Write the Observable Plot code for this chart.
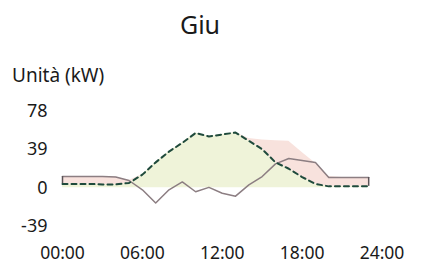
<!DOCTYPE html>
<html>
<head>
<meta charset="utf-8">
<script src="https://cdn.jsdelivr.net/npm/d3@7"></script>
<script src="https://cdn.jsdelivr.net/npm/@observablehq/plot@0.6"></script>
<style>
  html, body { margin: 0; padding: 0; background: #ffffff; }
  #wrap { position: relative; width: 426px; height: 265px; font-family: "Noto Sans", sans-serif; color: #1a1a1a; }
  #title { position: absolute; left: 0; width: 400px; text-align: center; top: 12px; font-size: 25px; line-height: 1; }
  #unit { position: absolute; left: 12px; top: 66px; font-size: 19px; line-height: 1; }
  #chart { position: absolute; left: 0; top: 0; }
</style>
</head>
<body>
<div id="wrap">
  <div id="chart"></div>
  <div id="title">Giu</div>
  <div id="unit">Unità (kW)</div>
</div>
<script>
// Hours of the day (hourly samples)
const hours = [0,1,2,3,4,5,6,7,8,9,10,11,12,13,14,15,16,17,18,19,20,21,22,23];
// PV production (dashed line)
const pv    = [4,4,4,3.5,3.5,5,13.5,26,37,46,56,52.5,54.5,56.5,48,39.5,26,19.5,11,4,1.5,1.5,1.5,1.5];
// Grid power (solid line; negative = export)
const grid  = [11.5,11.5,11.5,11.5,11,7.5,-2,-15.5,-2,6,-4,0.5,-5.5,-8.5,3,11.5,24.5,30,28,26,10.5,10.5,10.5,10.5];
// Consumption (top of the pink area)
const load  = [11.5,11.5,11.5,11.5,11,7.5,11.5,10.5,35,44,52,50,49,48,50.5,49,48,47.5,36,25,11.5,10.5,10.5,10.5];

const xTicks = [0,6,12,18,24];
const xTickLabels = ["00:00","06:00","12:00","18:00","24:00"];
const yTicks = [-39,0,39,78];
const yTickLabels = ["-39","0","39","78"];

const data = hours.map((h, i) => ({h, pv: pv[i], grid: grid[i], load: load[i], top: Math.max(load[i], pv[i])}));
const ends = [data[0], data[data.length - 1]];

const chart = Plot.plot({
  width: 426,
  height: 265,
  marginLeft: 62,
  marginRight: 44.5,
  marginTop: 111,
  marginBottom: 39.5,
  style: {fontFamily: "'Noto Sans', sans-serif", fontSize: "18px", color: "#1a1a1a", background: "transparent"},
  x: {domain: [0, 24]},
  y: {domain: [-39, 78]},
  marks: [
    Plot.areaY(data, {x: "h", y1: 0, y2: "pv", fill: "#eff3d9"}),
    Plot.areaY(data, {x: "h", y1: "pv", y2: "top", fill: "#f8e2dd"}),
    Plot.lineY(data, {x: "h", y: "grid", stroke: "#8c7e82", strokeWidth: 1.5}),
    Plot.ruleX(ends, {x: "h", y1: "pv", y2: "grid", stroke: "#5a5256", strokeWidth: 1.5}),
    Plot.lineY(data, {x: "h", y: "pv", stroke: "#1f4a3c", strokeWidth: 2, strokeDasharray: "5,4"}),
    Plot.axisX({ticks: xTicks, tickFormat: (d, i) => xTickLabels[i], tickSize: 0, tickPadding: 21, label: null, fontSize: 17.5}),
    Plot.axisY({ticks: yTicks, tickFormat: (d, i) => yTickLabels[i], tickSize: 0, tickPadding: 15, label: null})
  ]
});
document.getElementById("chart").appendChild(chart);
</script>
</body>
</html>
